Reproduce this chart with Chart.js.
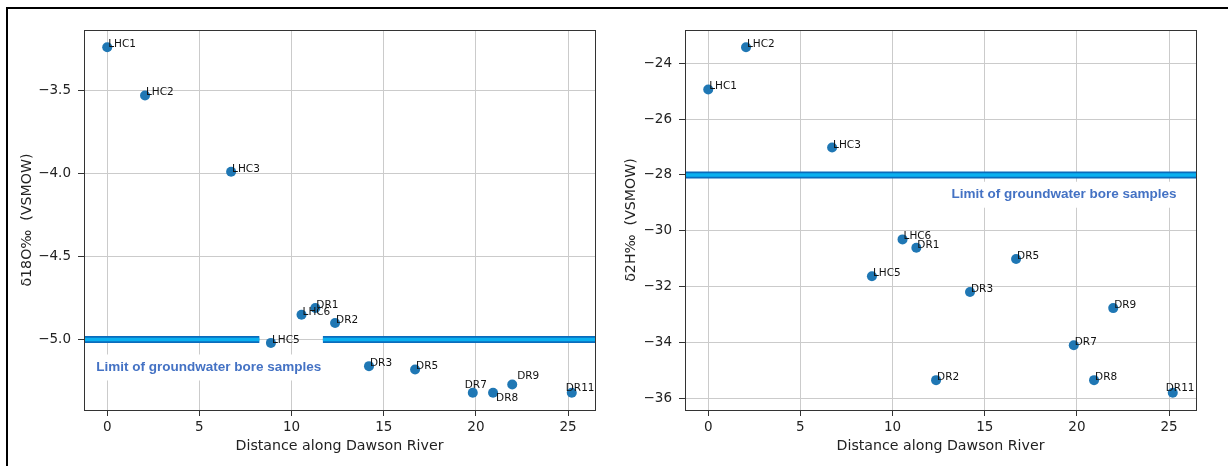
<!DOCTYPE html>
<html>
<head>
<meta charset="utf-8">
<script src="https://cdn.jsdelivr.net/npm/chart.js@4"></script>
<style>
  body { margin:0; background:#fff; width:1228px; height:466px; overflow:hidden; position:relative; }
  #frame { position:absolute; left:6px; top:7px; right:0; bottom:0; border-top:2px solid #000; border-left:2px solid #000; pointer-events:none; }
  #o18Box { position:absolute; left:0; top:0; width:610px; height:466px; }
  #h2Box { position:absolute; left:610px; top:0; width:618px; height:466px; }
</style>
</head>
<body>
<div id="o18Box"><canvas id="o18Chart" width="610" height="466"></canvas></div>
<div id="h2Box"><canvas id="h2Chart" width="618" height="466"></canvas></div>
<div id="frame"></div>
<script>
// sample sites along the river
const sampleNames = ['LHC1','LHC2','LHC3','LHC5','LHC6','DR1','DR2','DR3','DR5','DR7','DR8','DR9','DR11'];
const distanceKm  = [0, 2.05, 6.72, 8.88, 10.54, 11.29, 12.36, 14.2, 16.7, 19.83, 20.93, 21.97, 25.2];
const d18O = [-3.24, -3.53, -3.99, -5.02, -4.85, -4.81, -4.90, -5.16, -5.18, -5.32, -5.32, -5.27, -5.32];
const d2H  = [-24.94, -23.43, -27.02, -31.63, -30.31, -30.61, -35.35, -32.19, -31.01, -34.10, -35.35, -32.77, -35.80];

// groundwater bore limits
const d18OLimit = -5.0;
const d2HLimit = -28.0;
const limitText = 'Limit of groundwater bore samples';

const xTicks = [0, 5, 10, 15, 20, 25];
const d18OTicks = [-5.0, -4.5, -4.0, -3.5];
const d2HTicks = [-36, -34, -32, -30, -28, -26, -24];

Chart.defaults.font.family = "'DejaVu Sans', sans-serif";
Chart.defaults.color = '#222';

// matplotlib style 5% margins
function padRange(vals) {
  let lo = Math.min.apply(null, vals), hi = Math.max.apply(null, vals);
  let m = (hi - lo) * 0.05;
  return [lo - m, hi + m];
}
function fmtTick(v, dec) {
  return (v < 0 ? '\u2212' : '') + Math.abs(v).toFixed(dec);
}

let xRange = padRange(distanceKm);

// label nudges in pixels, default is left/baseline at the point
let o18Nudge = { DR7: [-9, -5], DR8: [2, 8], DR9: [4, -5], DR11: [-7, -2] };
let h2Nudge = { DR11: [-8, -2] };

let isotopePlugin = {
  id: 'isotopeExtras',
  beforeDatasetsDraw(chart) {
    let ex = chart.options.plugins.isotopeExtras;
    let ctx = chart.ctx;
    let x = chart.scales.x.getPixelForValue(ex.noteX);
    let y = chart.scales.y.getPixelForValue(ex.noteY);
    ctx.save();
    ctx.font = "bold 13.5px 'Liberation Sans', Arial, sans-serif";
    let w = ctx.measureText(limitText).width;
    ctx.fillStyle = '#fff';
    ctx.fillRect(x - 6, y - 13, w + 12, 26);
    ctx.fillStyle = '#4472c4';
    ctx.textBaseline = 'middle';
    ctx.fillText(limitText, x, y);
    ctx.restore();
  },
  afterDatasetsDraw(chart) {
    let ex = chart.options.plugins.isotopeExtras;
    let ctx = chart.ctx;
    let meta = chart.getDatasetMeta(0);
    ctx.save();
    ctx.font = "10.5px 'DejaVu Sans', sans-serif";
    ctx.fillStyle = '#111';
    ctx.textBaseline = 'alphabetic';
    meta.data.forEach(function (pt, i) {
      let n = ex.nudge[sampleNames[i]] || [0, 0];
      ctx.fillText(sampleNames[i], pt.x + 1 + n[0], pt.y + n[1]);
    });
    let a = chart.chartArea;
    ctx.strokeStyle = '#333';
    ctx.lineWidth = 1;
    ctx.strokeRect(Math.round(a.left) + 0.5, Math.round(a.top) + 0.5, Math.round(a.right - a.left), Math.round(a.bottom - a.top));
    ctx.restore();
  }
};

// chart.js paints lower dataset indexes on top, so the light core comes first
function limitSets(level, spans) {
  let sets = [];
  spans.forEach(function (s) {
    let pts = [{ x: s[0], y: level }, { x: s[1], y: level }];
    sets.push({ data: pts, showLine: true, pointRadius: 0, borderColor: '#0ab0f0', borderWidth: 3.5, borderCapStyle: 'butt' });
  });
  spans.forEach(function (s) {
    let pts = [{ x: s[0], y: level }, { x: s[1], y: level }];
    sets.push({ data: pts, showLine: true, pointRadius: 0, borderColor: '#0b6cbc', borderWidth: 7, borderCapStyle: 'butt' });
  });
  return sets;
}

function makeChart(canvasId, yVals, yTitle, yTicks, dec, limit, spans, note, nudge, yAxisW, padRight, titlePad) {
  let yRange = padRange(yVals);
  let points = distanceKm.map(function (d, i) { return { x: d, y: yVals[i] }; });
  let sets = [{ data: points, backgroundColor: '#1f77b4', borderWidth: 0, pointRadius: 5 }].concat(limitSets(limit, spans));
  return new Chart(document.getElementById(canvasId).getContext('2d'), {
    type: 'scatter',
    data: { datasets: sets },
    options: {
      responsive: false,
      animation: false,
      devicePixelRatio: 1,
      layout: { padding: { top: 30, right: padRight, left: 0, bottom: 0 } },
      plugins: {
        legend: { display: false },
        tooltip: { enabled: false },
        isotopeExtras: { noteX: note[0], noteY: note[1], nudge: nudge }
      },
      scales: {
        x: {
          type: 'linear', min: xRange[0], max: xRange[1],
          afterBuildTicks: function (s) { s.ticks = xTicks.map(function (v) { return { value: v }; }); },
          afterFit: function (s) { s.height = 56; },
          grid: { color: '#cbcbcb', tickColor: '#333', tickLength: 6 },
          border: { color: '#333' },
          ticks: { font: { size: 13.5 }, padding: 3, maxRotation: 0, callback: function (v) { return fmtTick(v, 0); } },
          title: { display: true, text: 'Distance along Dawson River', font: { size: 14.2 }, padding: { top: 0, bottom: 11 } }
        },
        y: {
          type: 'linear', min: yRange[0], max: yRange[1],
          afterBuildTicks: function (s) { s.ticks = yTicks.map(function (v) { return { value: v }; }); },
          afterFit: function (s) { s.width = yAxisW; },
          grid: { color: '#cbcbcb', tickColor: '#333', tickLength: 6 },
          border: { color: '#333' },
          ticks: { font: { size: 13.5 }, padding: 7, callback: function (v) { return fmtTick(v, dec); } },
          title: { display: true, text: yTitle, font: { size: 14.2 }, padding: { top: titlePad, bottom: 0 } }
        }
      }
    },
    plugins: [isotopePlugin]
  });
}

let o18Chart = makeChart('o18Chart', d18O, 'δ18O‰  (VSMOW)', d18OTicks, 1,
  d18OLimit, [[xRange[0], 8.25], [11.7, xRange[1]]], [-0.6, -5.168], o18Nudge, 84, 15, 19);

let h2Chart = makeChart('h2Chart', d2H, 'δ2H‰  (VSMOW)', d2HTicks, 0,
  d2HLimit, [[xRange[0], xRange[1]]], [13.2, -28.71], h2Nudge, 75, 32, 13);
</script>
</body>
</html>
